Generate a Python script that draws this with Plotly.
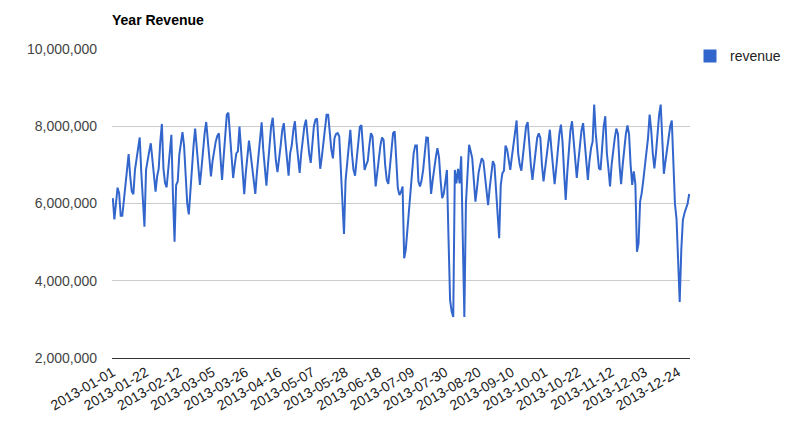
import plotly.graph_objects as go
import pandas as pd

# Daily revenue, in millions (2013)
jan = [6.14, 5.59, 6.0, 6.41, 6.27, 5.68, 5.68, 6.09, 6.5, 6.9,
       7.28, 6.7, 6.31, 6.24, 6.87, 7.15, 7.45, 7.71, 6.8, 5.9,
       5.40, 6.87, 7.15, 7.35, 7.56, 7.2, 6.7, 6.31, 6.7, 6.9, 7.6]
feb = [8.06, 6.9, 6.53, 6.42, 6.9, 7.4, 7.78, 6.2, 5.01, 6.48,
       6.57, 7.26, 7.6, 7.85, 7.5, 6.7, 6.0, 5.72, 6.4, 7.0,
       7.5, 7.94, 7.4, 6.9, 6.48, 6.9, 7.4, 7.82]
mar = [8.11, 7.6, 7.0, 6.7, 7.1, 7.4, 7.6, 7.75, 7.82, 7.2,
       6.61, 7.2, 7.8, 8.3, 8.35, 7.7, 7.0, 6.66, 7.0, 7.3,
       7.35, 7.99, 7.4, 6.8, 6.24, 6.8, 7.3, 7.63, 7.3, 6.9, 6.5]
apr = [6.25, 6.8, 7.3, 7.8, 8.1, 7.4, 6.8, 6.46, 7.0, 7.6,
       8.0, 8.22, 7.6, 7.1, 6.81, 7.1, 7.5, 7.9, 8.08, 7.6,
       7.1, 6.72, 7.3, 7.5, 7.9, 8.13, 7.6, 7.1, 6.79, 7.3]
may = [7.7, 8.0, 8.17, 7.7, 7.3, 7.05, 7.5, 8.0, 8.17, 8.2,
       7.5, 6.9, 7.2, 7.6, 8.0, 8.3, 8.3, 7.8, 7.4, 7.17,
       7.69, 7.8, 7.82, 7.74, 6.8, 6.0, 5.21, 6.6, 7.1, 7.5, 7.91]
jun = [7.3, 6.87, 6.72, 7.2, 7.7, 7.98, 8.03, 7.3, 6.87, 7.0,
       7.1, 7.5, 7.82, 7.74, 7.0, 6.44, 6.8, 7.2, 7.5, 7.71,
       7.65, 7.0, 6.61, 6.51, 7.0, 7.5, 7.82, 7.87, 7.2, 6.4]
jul = [6.22, 6.3, 6.44, 4.58, 4.8, 5.3, 5.9, 6.35, 6.9, 7.3,
       7.5, 7.5, 6.57, 6.44, 6.6, 6.87, 7.3, 7.71, 7.7, 7.0,
       6.25, 6.6, 6.96, 7.2, 7.43, 7.2, 6.6, 6.14, 6.25, 6.6, 6.87]
aug = [5.1, 3.5, 3.2, 3.06, 6.87, 6.52, 6.9, 6.52, 7.22, 5.1,
       3.06, 6.0, 6.9, 7.52, 7.35, 7.17, 6.6, 6.05, 6.4, 6.8,
       7.0, 7.17, 7.1, 6.7, 6.3, 5.96, 6.4, 6.8, 7.1, 7.0, 6.4]
sep = [5.75, 5.1, 6.48, 6.78, 6.85, 7.5, 7.4, 7.1, 6.87, 7.2,
       7.5, 7.9, 8.15, 7.3, 7.0, 6.85, 7.3, 7.7, 8.0, 8.11,
       7.5, 7.0, 6.61, 7.0, 7.4, 7.7, 7.82, 7.7, 7.0, 6.57]
oct_ = [6.9, 7.3, 7.7, 7.91, 7.4, 6.9, 6.5, 6.9, 7.4, 7.8,
        8.04, 7.6, 6.8, 6.09, 6.8, 7.4, 7.9, 8.13, 7.6, 7.0,
        6.66, 7.1, 7.5, 7.9, 8.08, 7.6, 7.0, 6.61, 7.1, 7.43, 7.6]
nov = [8.56, 7.8, 7.22, 6.91, 6.87, 7.5, 8.0, 8.26, 7.3, 6.9,
       6.44, 7.0, 7.4, 7.7, 7.94, 7.8, 7.0, 6.5, 7.0, 7.43,
       7.8, 8.02, 7.8, 7.0, 6.48, 6.83, 6.5, 4.75, 4.97, 6.05]
dec = [6.27, 6.6, 6.96, 7.3, 7.7, 8.3, 7.9, 7.3, 6.91, 7.3,
       7.9, 8.3, 8.56, 7.48, 6.77, 7.09, 7.4, 7.74, 8.0, 8.15,
       7.2, 5.99, 5.6, 4.5, 3.45, 4.8, 5.57, 5.75, 5.85, 6.0, 6.25]

months = [jan, feb, mar, apr, may, jun, jul, aug, sep, oct_, nov, dec]
revenue = [round(v * 1e6) for m in months for v in m]
dates = pd.date_range("2013-01-01", "2013-12-31", freq="D").strftime("%Y-%m-%d").tolist()
tick_labels = dates[::21]
y_ticks = [2000000, 4000000, 6000000, 8000000, 10000000]

FONT = "Liberation Sans, Arial, sans-serif"
BLUE = "#3366CC"

fig = go.Figure()
fig.add_trace(go.Scatter(x=dates, y=revenue, mode="lines",
                         line=dict(color=BLUE, width=2),
                         showlegend=False, name="revenue"))
fig.add_trace(go.Scatter(x=[dates[0]], y=[None], mode="markers",
                         marker=dict(symbol="square", size=13, color=BLUE),
                         name="revenue", showlegend=True))

# The page body adds an 8px offset; margins compensate for it.
fig.update_layout(
    width=794, height=441,
    margin=dict(l=104, r=112, t=41, b=91),
    paper_bgcolor="white", plot_bgcolor="white",
    font=dict(family=FONT, size=14, color="#222222"),
    title=dict(text="<b>Year Revenue</b>", x=0, xref="paper", xanchor="left",
               y=1 - 12 / 441, yref="container", yanchor="middle",
               font=dict(family=FONT, size=14, color="#000000")),
    legend=dict(x=1.0, y=1.028, xanchor="left", yanchor="top",
                font=dict(family=FONT, size=14, color="#222222"),
                bgcolor="rgba(0,0,0,0)", itemsizing="trace"),
    xaxis=dict(type="category", range=[-0.5, 364.5],
               tickmode="array", tickvals=tick_labels, ticktext=tick_labels,
               tickangle=-30, showgrid=False, zeroline=False,
               showline=True, linecolor="#333333", linewidth=1,
               ticks="", tickfont=dict(size=14, color="#222222")),
    yaxis=dict(range=[2000000, 10000000], tickmode="array", tickvals=y_ticks,
               tickformat=",d", showgrid=True, gridcolor="#cccccc", gridwidth=1,
               zeroline=False, showline=False, ticks="",
               ticklabelstandoff=14, tickfont=dict(size=14, color="#444444")),
)

fig.write_html("out.html")
